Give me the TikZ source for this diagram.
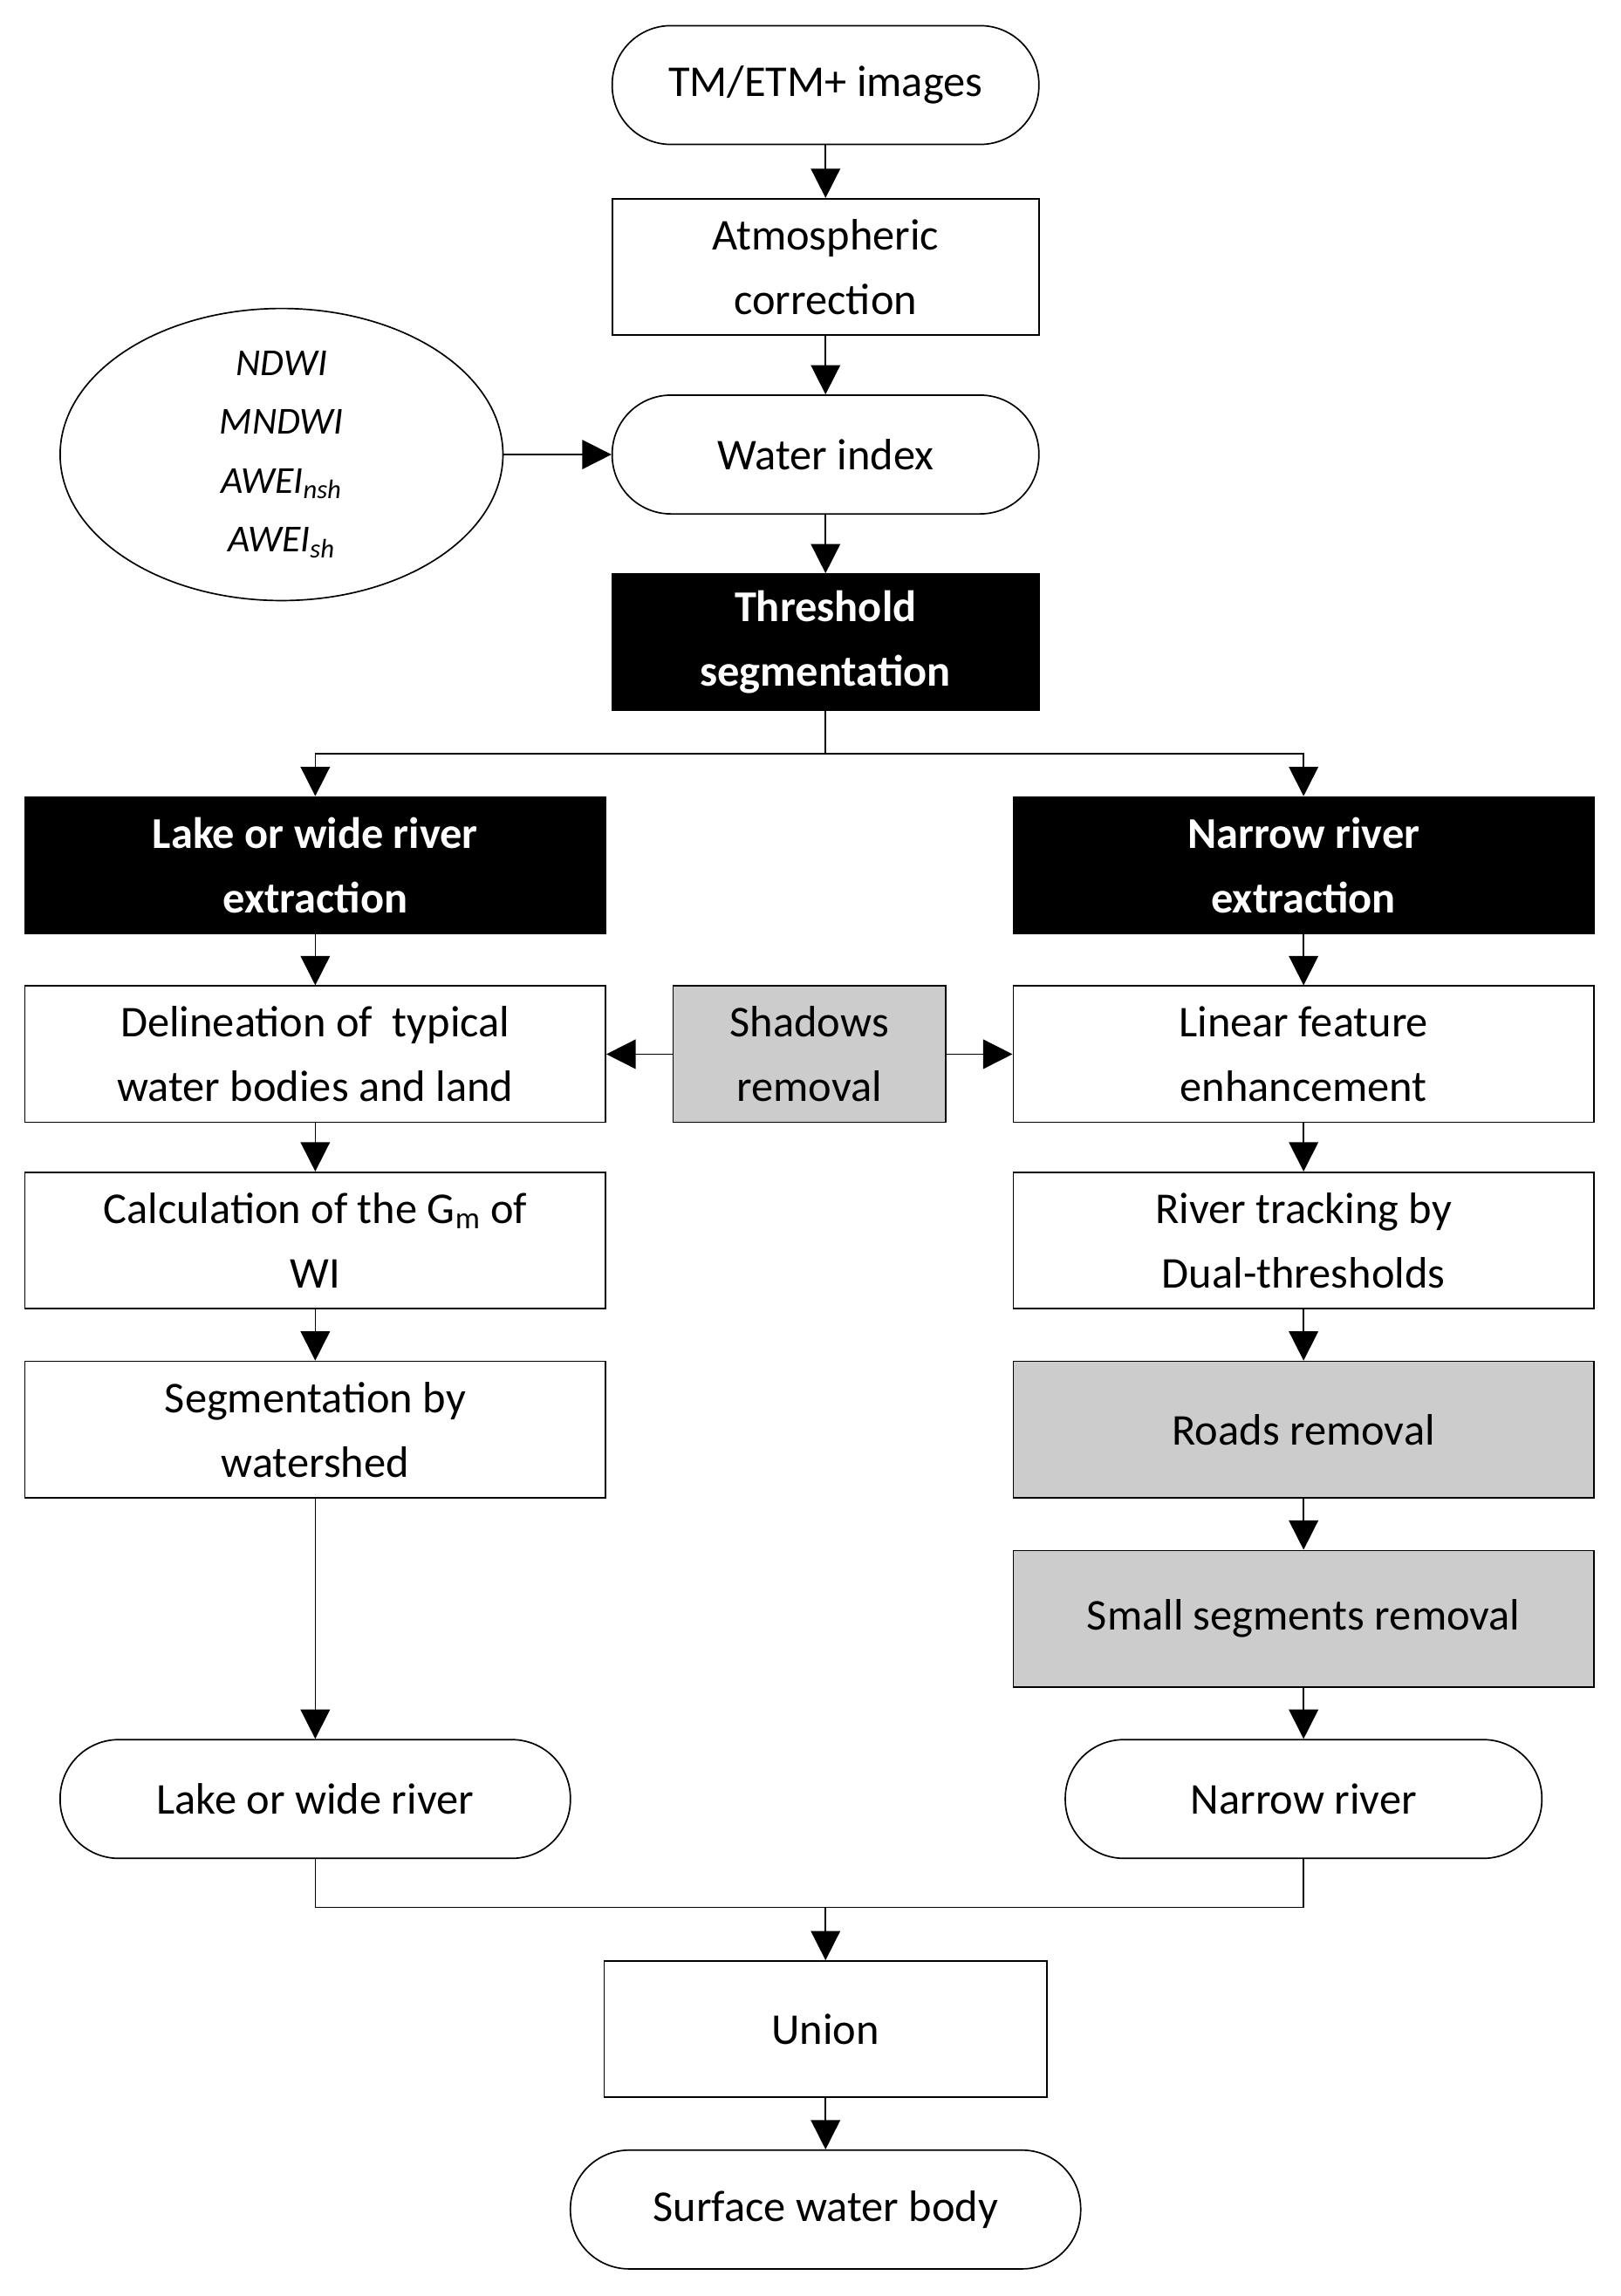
\documentclass[tikz,border=0pt]{standalone}
\usepackage{fontspec}
\setmainfont{Carlito}
\usetikzlibrary{arrows.meta,shapes.geometric}
\begin{document}
\begin{tikzpicture}[x=1pt,y=-1pt,
  base/.style={draw,line width=1pt,align=center,font=\fontsize{30}{44}\selectfont,inner sep=0pt},
  box/.style={base,rectangle,minimum width=#1,minimum height=93},
  rnd/.style={base,rounded corners=40,minimum width=#1,minimum height=81},
  blk/.style={box=#1,fill=black,text=white,font=\fontsize{30}{44}\selectfont\bfseries},
  gry/.style={box=#1,fill=black!20},
  ar/.style={line width=1pt,-{Triangle[length=20,width=20]}},
  ln/.style={line width=1pt}]
\useasboundingbox (0,0) rectangle (1105,1566);
\node[rnd=291] (tm) at (563,58) {TM/ETM+ images};
\node[box=291] (atm) at (563,182) {Atmospheric\\correction};
\node[rnd=291] (wi) at (563,310) {Water index};
\node[base,ellipse,minimum width=302,minimum height=150,font=\fontsize{26}{40}\selectfont\itshape] (ell) at (192,310) {NDWI\\MNDWI\\AWEI\textsubscript{nsh}\\AWEI\textsubscript{sh}};
\node[blk=291] (th) at (563,438) {Threshold\\segmentation};
\node[blk=396] (lk) at (215,590) {Lake or wide river\\extraction};
\node[blk=396] (nr) at (889,590) {Narrow river\\extraction};
\node[box=396] (del) at (215,719) {Delineation of \ typical\\water bodies and land};
\node[gry=186] (sh) at (552,719) {Shadows\\removal};
\node[box=396] (lin) at (889,719) {Linear feature\\enhancement};
\node[box=396] (cal) at (215,846) {Calculation of the G\textsubscript{m} of\\WI};
\node[box=396] (rt) at (889,846) {River tracking by\\Dual-thresholds};
\node[box=396] (seg) at (215,975) {Segmentation by\\watershed};
\node[gry=396] (rd) at (889,975) {Roads removal};
\node[gry=396] (sm) at (889,1104) {Small segments removal};
\node[rnd=348] (lr) at (215,1227) {Lake or wide river};
\node[rnd=325] (nrr) at (889,1227) {Narrow river};
\node[box=302] (un) at (563,1384) {Union};
\node[rnd=348] (sw) at (563,1507) {Surface water body};
\coordinate (s1) at (563,514);
\coordinate (s2) at (563,1301);
\draw[ar] (tm) -- (atm);
\draw[ar] (atm) -- (wi);
\draw[ar] (ell) -- (wi);
\draw[ar] (wi) -- (th);
\draw[ln] (th) -- (s1);
\draw[ar] (s1) -| (lk);
\draw[ar] (s1) -| (nr);
\draw[ar] (lk) -- (del);
\draw[ar] (nr) -- (lin);
\draw[ar] (sh) -- (del);
\draw[ar] (sh) -- (lin);
\draw[ar] (del) -- (cal);
\draw[ar] (cal) -- (seg);
\draw[ar] (seg) -- (lr);
\draw[ar] (lin) -- (rt);
\draw[ar] (rt) -- (rd);
\draw[ar] (rd) -- (sm);
\draw[ar] (sm) -- (nrr);
\draw[ln] (lr) |- (s2);
\draw[ln] (nrr) |- (s2);
\draw[ar] (s2) -- (un);
\draw[ar] (un) -- (sw);
\end{tikzpicture}
\end{document}
